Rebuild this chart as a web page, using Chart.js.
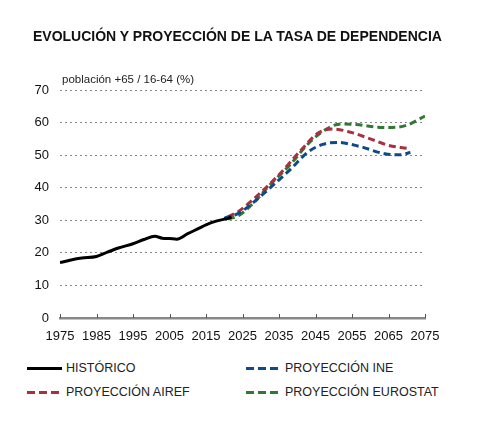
<!DOCTYPE html>
<html>
<head>
<meta charset="utf-8">
<script src="https://cdn.jsdelivr.net/npm/chart.js@4"></script>
<style>
    body { margin: 0; background: #fff; font-family: 'Liberation Sans', Arial, sans-serif; }
    .wrap { position: relative; width: 479px; height: 431px; }
    #chart { position: absolute; left: 0; top: 0; }
    .title { position: absolute; left: 33px; top: 28px; font-size: 14px; font-weight: bold; color: #111; white-space: nowrap; }
    .sub { position: absolute; left: 62px; top: 73px; font-size: 11.5px; color: #222; white-space: nowrap; }
    .leg { position: absolute; font-size: 12.5px; color: #222; white-space: nowrap; display: flex; align-items: center; }
    .leg span.ln { display: inline-block; width: 35px; height: 3px; margin-right: 4px; }
</style>
</head>
<body>
<div class="wrap">
    <canvas id="chart" width="479" height="350"></canvas>
    <div class="title">EVOLUCIÓN Y PROYECCIÓN DE LA TASA DE DEPENDENCIA</div>
    <div class="sub">población +65 / 16-64 (%)</div>
    <div class="leg" style="left:27px; top:361px"><span class="ln" style="background:#000"></span>HISTÓRICO</div>
    <div class="leg" style="left:246px; top:361px"><span class="ln" style="background:repeating-linear-gradient(90deg,#0d4a8c 0 8px,transparent 8px 12px)"></span>PROYECCIÓN INE</div>
    <div class="leg" style="left:27px; top:385px"><span class="ln" style="background:repeating-linear-gradient(90deg,#a8303f 0 8px,transparent 8px 12px)"></span>PROYECCIÓN AIREF</div>
    <div class="leg" style="left:246px; top:385px"><span class="ln" style="background:repeating-linear-gradient(90deg,#2f7a32 0 8px,transparent 8px 12px)"></span>PROYECCIÓN EUROSTAT</div>
</div>
<script>
// data
const histYears = [1975, 1978, 1981, 1985, 1988, 1991, 1995, 1998, 2001, 2003, 2005, 2007, 2010, 2013, 2015, 2018, 2021, 2022];
const histValues = [17.0, 17.8, 18.4, 18.9, 20.2, 21.5, 22.8, 24.1, 25.1, 24.5, 24.4, 24.2, 25.9, 27.5, 28.6, 29.8, 30.6, 31.0];

const airefYears = [2021, 2024, 2029, 2035, 2041, 2046, 2050, 2055, 2060, 2065, 2070];
const airefValues = [31.0, 32.8, 37.5, 44.0, 51.5, 57.0, 58.0, 56.9, 55.0, 53.0, 52.1];

const ineYears = [2020, 2024, 2028, 2032, 2038, 2043, 2047, 2051, 2057, 2064, 2068, 2071];
const ineValues = [30.6, 32.2, 35.5, 39.4, 45.5, 51.0, 53.3, 53.9, 52.7, 50.4, 50.1, 50.8];

const eurostatYears = [2021, 2024, 2028, 2032, 2038, 2043, 2048, 2052, 2057, 2062, 2066, 2070, 2075];
const eurostatValues = [30.4, 31.5, 35.3, 40.3, 47.0, 53.5, 58.0, 59.6, 59.3, 58.6, 58.5, 59.2, 62.0];

const xTicks = [1975, 1985, 1995, 2005, 2015, 2025, 2035, 2045, 2055, 2065, 2075];
const yTicks = [0, 10, 20, 30, 40, 50, 60, 70];

function pts(xs, ys) {
    return xs.map((x, i) => ({ x: x, y: ys[i] }))
}

function serie(label, xs, ys, color, dashed) {
    return {
        label: label,
        data: pts(xs, ys),
        borderColor: color,
        borderWidth: 3,
        borderDash: dashed ? [7, 4] : [],
        pointRadius: 0,
        fill: false,
        cubicInterpolationMode: 'monotone'
    }
}

// small tick marks pointing up from the x axis
const upTicks = {
    id: 'upTicks',
    afterDraw(chart) {
        const ctx = chart.ctx
        const x = chart.scales.x
        const b = chart.chartArea.bottom
        ctx.save()
        ctx.strokeStyle = '#555'
        ctx.lineWidth = 1
        xTicks.forEach(function (t) {
            const px = Math.round(x.getPixelForValue(t)) + 0.5
            ctx.beginPath()
            ctx.moveTo(px, b - 4)
            ctx.lineTo(px, b)
            ctx.stroke()
        })
        ctx.restore()
    }
}

new Chart(document.getElementById('chart'), {
    type: 'line',
    data: {
        datasets: [
            serie('HISTÓRICO', histYears, histValues, '#000', false),
            serie('PROYECCIÓN INE', ineYears, ineValues, '#0d4a8c', true),
            serie('PROYECCIÓN AIREF', airefYears, airefValues, '#a8303f', true),
            serie('PROYECCIÓN EUROSTAT', eurostatYears, eurostatValues, '#2f7a32', true)
        ]
    },
    options: {
        responsive: false,
        animation: false,
        layout: { padding: { top: 90, right: 54, bottom: 2, left: 0 } },
        plugins: { legend: { display: false }, tooltip: { enabled: false } },
        scales: {
            x: {
                type: 'linear',
                min: 1975,
                max: 2075,
                afterBuildTicks: function (s) { s.ticks = xTicks.map(v => ({ value: v })) },
                afterFit: function (s) { s.height = 30 },
                ticks: {
                    color: '#111', font: { size: 13, family: 'Liberation Sans' }, padding: 3, maxRotation: 0, autoSkip: false,
                    callback: function (v) { return String(v) }
                },
                grid: { display: false },
                border: { display: true, color: '#888', width: 2.5 }
            },
            y: {
                min: 0,
                max: 70,
                afterBuildTicks: function (s) { s.ticks = yTicks.map(v => ({ value: v })) },
                afterFit: function (s) { s.width = 60 },
                ticks: { color: '#111', font: { size: 13, family: 'Liberation Sans' }, padding: 11 },
                grid: {
                    drawTicks: false,
                    color: function (c) { return c.tick.value === 0 ? 'rgba(0,0,0,0)' : '#888' }
                },
                border: { display: false, dash: [2, 3] }
            }
        }
    },
    plugins: [upTicks]
});
</script>
</body>
</html>
